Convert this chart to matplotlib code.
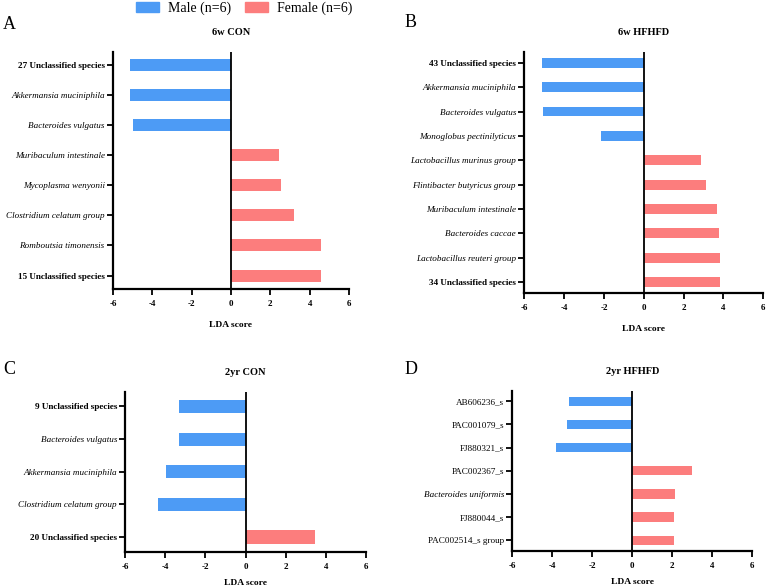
import matplotlib.pyplot as plt
from matplotlib.patches import Patch

plt.rcParams['font.family'] = ['Liberation Serif', 'DejaVu Serif']

BLUE = '#4d9bf5'
PINK = '#fc7d7d'

# panel A: 6w CON (top to bottom)
a_names = ['27 Unclassified species', 'Akkermansia muciniphila', 'Bacteroides vulgatus',
           'Muribaculum intestinale', 'Mycoplasma wenyonii', 'Clostridium celatum group',
           'Romboutsia timonensis', '15 Unclassified species']
a_lda = [-5.15, -5.15, -4.98, 2.42, 2.52, 3.21, 4.57, 4.57]

# panel B: 6w HFHFD
b_names = ['43 Unclassified species', 'Akkermansia muciniphila', 'Bacteroides vulgatus',
           'Monoglobus pectinilyticus', 'Lactobacillus murinus group', 'Flintibacter butyricus group',
           'Muribaculum intestinale', 'Bacteroides caccae', 'Lactobacillus reuteri group',
           '34 Unclassified species']
b_lda = [-5.09, -5.09, -5.06, -2.13, 2.85, 3.13, 3.65, 3.75, 3.82, 3.82]

# panel C: 2yr CON
c_names = ['9 Unclassified species', 'Bacteroides vulgatus', 'Akkermansia muciniphila',
           'Clostridium celatum group', '20 Unclassified species']
c_lda = [-3.32, -3.32, -3.99, -4.38, 3.45]

# panel D: 2yr HFHFD
d_names = ['AB606236_s', 'PAC001079_s', 'FJ880321_s', 'PAC002367_s',
           'Bacteroides uniformis', 'FJ880044_s', 'PAC002514_s group']
d_lda = [-3.15, -3.27, -3.83, 2.98, 2.13, 2.08, 2.08]

xticks = [-6, -4, -2, 0, 2, 4, 6]

fig = plt.figure(figsize=(7.67, 5.88), dpi=100)


def panel(rect, names, vals, title, letter, letter_xy, lpad):
    ax = fig.add_axes(rect)
    n = len(names)
    y = list(range(n))[::-1]
    cols = [BLUE if v < 0 else PINK for v in vals]
    ax.barh(y, vals, height=0.4, color=cols, edgecolor='none')
    ax.axvline(0, color='black', lw=1.3)
    ax.set_xlim(-6, 6)
    ax.set_ylim(-0.45, n - 0.55)
    ax.set_xticks(xticks)
    ax.set_xticklabels([str(t) for t in xticks], fontsize=6.5, fontweight='bold')
    ax.set_yticks(y)
    ax.set_yticklabels(names, fontsize=6.6)
    for lab in ax.get_yticklabels():
        txt = lab.get_text()
        if 'Unclassified' in txt:
            lab.set_fontweight('bold')
        elif '_s' not in txt:
            lab.set_fontstyle('italic')
    for s in ['top', 'right']:
        ax.spines[s].set_visible(False)
    for s in ['left', 'bottom']:
        ax.spines[s].set_linewidth(1.6)
    ax.tick_params(axis='both', width=1.3, length=4, pad=2)
    ax.tick_params(axis='x', pad=4)
    ax.set_title(title, fontsize=7.5, fontweight='bold', pad=12)
    ax.set_xlabel('LDA score', fontsize=6.8, fontweight='bold', labelpad=lpad)
    fig.text(letter_xy[0], letter_xy[1], letter, fontsize=13, ha='left', va='center')
    return ax


panel([0.1473, 0.5085, 0.3077, 0.4031], a_names, a_lda, '6w CON', 'A', (0.004, 0.958), 9)
panel([0.6836, 0.5017, 0.3116, 0.4099], b_names, b_lda, '6w HFHFD', 'B', (0.527, 0.961), 9)
panel([0.1634, 0.0617, 0.3134, 0.2721], c_names, c_lda, '2yr CON', 'C', (0.004, 0.371), 6)
panel([0.6680, 0.0634, 0.3128, 0.2721], d_names, d_lda, '2yr HFHFD', 'D', (0.527, 0.371), 6)

handles = [Patch(color=BLUE, label='Male (n=6)'), Patch(color=PINK, label='Female (n=6)')]
fig.legend(handles=handles, loc='center', bbox_to_anchor=(0.318, 0.986), ncol=2,
           frameon=False, fontsize=10, handlelength=1.7, handleheight=0.7,
           columnspacing=1.0, handletextpad=0.6)

fig.savefig('out.png', dpi=100)
